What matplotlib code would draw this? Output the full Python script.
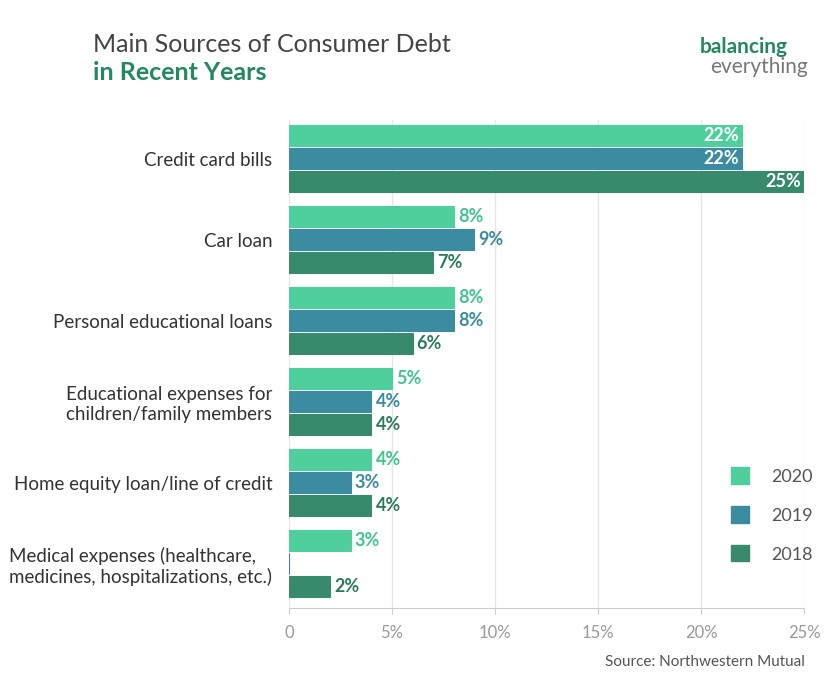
import matplotlib.pyplot as plt
import numpy as np
from matplotlib.patches import Patch

categories = [
    "Credit card bills",
    "Car loan",
    "Personal educational loans",
    "Educational expenses for\nchildren/family members",
    "Home equity loan/line of credit",
    "Medical expenses (healthcare,\nmedicines, hospitalizations, etc.)",
]
years = ["2020", "2019", "2018"]
v2020 = [22, 8, 8, 5, 4, 3]
v2019 = [22, 9, 8, 4, 3, 0]
v2018 = [25, 7, 6, 4, 4, 2]

colors = ["#4fcf9b", "#3b8ba1", "#378b6c"]
text_colors = ["#3fc58f", "#3b8ba1", "#2b7c5c"]

plt.rcParams["font.family"] = "Lato"
fig = plt.figure(figsize=(8.3, 6.92), dpi=100)
ax = fig.add_axes([289 / 830, 1 - 608 / 692, (804 - 289) / 830, 488 / 692])

y = np.arange(len(categories))
offsets = [-0.284, 0, 0.284]
for k, vals in enumerate([v2020, v2019, v2018]):
    ax.barh(y + offsets[k], vals, height=0.26, color=colors[k],
            edgecolor=colors[k], linewidth=0.8, label=years[k], zorder=3)
    for i, v in enumerate(vals):
        if v == 0:
            continue
        if v >= 20:
            ax.text(v - 0.15, y[i] + offsets[k], f"{v}%", ha="right", va="center",
                    color="white", fontsize=13, fontweight="bold", zorder=4)
        else:
            ax.text(v + 0.2, y[i] + offsets[k], f"{v}%", ha="left", va="center",
                    color=text_colors[k], fontsize=13, fontweight="bold", zorder=4)

ax.set_xlim(0, 25)
ax.set_ylim(5.55, -0.48)
ax.set_yticks(y)
ax.set_yticklabels(categories, fontsize=13.5, color="#333333", ha="right",
                   multialignment="left")
ax.set_xticks([0, 5, 10, 15, 20, 25])
ax.set_xticklabels(["0", "5%", "10%", "15%", "20%", "25%"], fontsize=12, color="#999999")
ax.tick_params(axis="y", length=0, pad=12)
ax.tick_params(axis="x", length=4, color="#cccccc", pad=8)
ax.grid(axis="x", color="#e6e6e6", linewidth=1, zorder=0)
for s in ["top", "right", "left"]:
    ax.spines[s].set_visible(False)
ax.spines["bottom"].set_color("#cccccc")

handles = [Patch(facecolor=c, edgecolor=c) for c in colors]
leg = fig.legend(handles, years, loc="center left", bbox_to_anchor=(715 / 830, 1 - 515 / 692),
                 frameon=False, fontsize=13, handlelength=1.0, handleheight=1.0,
                 labelspacing=1.2, handletextpad=1.2)
for t in leg.get_texts():
    t.set_color("#555555")

fig.text(93 / 830, 1 - 44 / 692, "Main Sources of Consumer Debt", fontsize=18,
         color="#444444", va="center")
fig.text(93 / 830, 1 - 73 / 692, "in Recent Years", fontsize=18, fontweight="bold",
         color="#23895f", va="center")
fig.text(700 / 830, 1 - 47 / 692, "balancing", fontsize=15, fontweight="bold",
         color="#23895f", va="center")
fig.text(710 / 830, 1 - 67 / 692, "everything", fontsize=15, color="#777777", va="center")
fig.text(805 / 830, 1 - 662 / 692, "Source: Northwestern Mutual", fontsize=11,
         color="#555555", ha="right", va="center")

fig.savefig("out.png", dpi=100)
